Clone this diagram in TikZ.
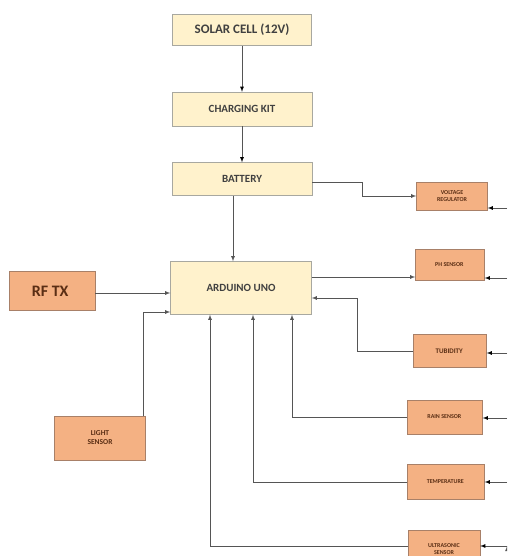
\documentclass[tikz,border=0pt]{standalone}
\usepackage{fontspec}
\setmainfont{Carlito}
\usepackage{tikz}
\usetikzlibrary{calc}

\definecolor{ylfill}{HTML}{FFF2CC}
\definecolor{yldraw}{HTML}{A8A8A0}
\definecolor{orfill}{HTML}{F4B183}
\definecolor{ordraw}{HTML}{A88068}
\definecolor{yltext}{HTML}{404040}
\definecolor{ortext}{HTML}{5A2E14}
\definecolor{wire}{HTML}{555555}

\begin{document}
\begin{tikzpicture}[x=1pt,y=-1pt,>=latex,
    ybox/.style={draw=yldraw,fill=ylfill,text=yltext,inner sep=0pt,
      font=\bfseries\fontsize{11}{12}\selectfont},
    obox/.style={draw=ordraw,fill=orfill,text=ortext,inner sep=0pt,align=center,
      font=\bfseries\fontsize{6}{7}\selectfont},
    wires/.style={draw=wire,line width=0.8pt}]
  \useasboundingbox (0,0) rectangle (507,556);
  \clip (0,0) rectangle (507,556);
  \node[ybox,minimum width=139,minimum height=31,font=\bfseries\fontsize{13}{14}\selectfont] (SOL) at (242,30) {
    SOLAR CELL (12V)
  };
  \node[ybox,minimum width=140,minimum height=34] (CHG) at (242,109) {
    CHARGING KIT
  };
  \node[ybox,minimum width=140,minimum height=33] (BAT) at (242,179) {
    BATTERY
  };
  \node[ybox,minimum width=141,minimum height=53] (UNO) at (241,288) {
    ARDUINO UNO
  };
  %%
  \node[obox,minimum width=86,minimum height=39,font=\bfseries\fontsize{16}{18}\selectfont] (RF) at (52,291) {
    RF TX
  };
  \node[obox,minimum width=91,minimum height=44,font=\bfseries\fontsize{7.5}{9}\selectfont] (LS) at (100,438) {
    LIGHT\\SENSOR
  };
  %%
  \node[obox,minimum width=71,minimum height=28] (VR) at (452,196) {
    VOLTAGE\\REGULATOR
  };
  \node[obox,minimum width=69,minimum height=31] (PH) at (450,265) {
    PH SENSOR
  };
  \node[obox,minimum width=73,minimum height=33,font=\bfseries\fontsize{7}{8}\selectfont] (TB) at (450,351) {
    TUBIDITY
  };
  \node[obox,minimum width=75,minimum height=34] (RS) at (445,417) {
    RAIN SENSOR
  };
  \node[obox,minimum width=77,minimum height=35] (TP) at (446,482) {
    TEMPERATURE
  };
  \node[obox,minimum width=72,minimum height=38] (US) at (444,549) {
    ULTRASONIC\\SENSOR
  };
  %%
  \coordinate (VRr) at (507,208);
  \coordinate (PHr) at (507,278);
  \coordinate (TBr) at (507,353);
  \coordinate (RSr) at (507,418);
  \coordinate (TPr) at (507,482);
  \coordinate (USr) at (507,546);
  %%
  \path[->,wires] (SOL) edge (CHG) (CHG) edge (BAT);
  \draw[->,wires] ([xshift=-9pt]BAT.south) -- ([xshift=-9pt]BAT.south |- UNO.north);
  \draw[->,wires] ([yshift=-3pt]BAT.east) -- ++(50,0) |- (VR.west);
  \draw[->,wires] ([yshift=11pt]UNO.east) -- ([yshift=11pt]UNO.east -| PH.west);
  \draw[->,wires] (TB.west) -- ++(-56,0) |- ([yshift=-10pt]UNO.east);
  \draw[->,wires] (RS.west) -| ([xshift=51pt]UNO.south);
  \draw[->,wires] (TP.west) -| ([xshift=12pt]UNO.south);
  \draw[->,wires] ([yshift=3pt]US.west) -| ([xshift=-31pt]UNO.south);
  \draw[->,wires] (RF.east |- 0,293) -- (UNO.west |- 0,293);
  \draw[->,wires] ([xshift=-2pt]LS.north east) |- ([yshift=-24pt]UNO.west);
  %%
  \path[->,wires] (VRr) edge (VRr -| VR.east) (PHr) edge (PHr -| PH.east)
    (TBr) edge (TBr -| TB.east) (RSr) edge (RSr -| RS.east)
    (TPr) edge (TPr -| TP.east) (USr) edge (USr -| US.east);
\end{tikzpicture}
\end{document}
